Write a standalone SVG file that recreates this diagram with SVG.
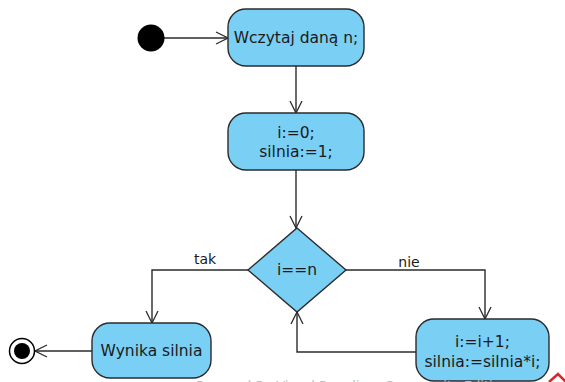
<svg xmlns="http://www.w3.org/2000/svg" width="565" height="382" viewBox="0 0 565 382">
  <style>
    .act { fill: #7acff5; stroke: #2b2b2b; stroke-width: 1.4; }
    .lbl { font-family: "DejaVu Sans", sans-serif; font-size: 15.5px; fill: #1a1a1a; text-anchor: middle; }
    .elbl { font-family: "DejaVu Sans", sans-serif; font-size: 14px; fill: #1a1a1a; text-anchor: middle; }
    .flow { fill: none; stroke: #2b2b2b; stroke-width: 1.4; }
    .wm { font-family: "DejaVu Sans", sans-serif; font-size: 13px; fill: #bdbdbd; }
  </style>
  <defs>
    <marker id="open" viewBox="0 0 14 14" refX="13" refY="7" markerWidth="14" markerHeight="14" markerUnits="userSpaceOnUse" orient="auto">
      <path d="M1,1 L13,7 L1,13" fill="none" stroke="#2b2b2b" stroke-width="1.3"/>
    </marker>
  </defs>
  <rect width="565" height="382" fill="#ffffff"/>

  <g id="connectors">
    <path class="flow" d="M164,38 L228,38" marker-end="url(#open)"/>
    <path class="flow" d="M296,66 L296,113" marker-end="url(#open)"/>
    <path class="flow" d="M296,170 L296,228" marker-end="url(#open)"/>
    <path class="flow" d="M248,270 L152,270 L152,323" marker-end="url(#open)"/>
    <path class="flow" d="M346,270 L485,270 L485,319" marker-end="url(#open)"/>
    <path class="flow" d="M416,352 L297,352 L297,312" marker-end="url(#open)"/>
    <path class="flow" d="M92,351 L35,351" marker-end="url(#open)"/>
    <text class="elbl" x="205" y="264">tak</text>
    <text class="elbl" x="409" y="267">nie</text>
  </g>

  <g id="start">
    <circle cx="151" cy="38" r="13.5" fill="#000000"/>
  </g>

  <g id="read">
    <rect class="act" x="228" y="9" width="136" height="57" rx="18" ry="18"/>
    <text class="lbl" x="296" y="43">Wczytaj daną n;</text>
  </g>

  <g id="init">
    <rect class="act" x="228" y="113" width="136" height="57" rx="18" ry="18"/>
    <text class="lbl" x="296" y="138">i:=0;</text>
    <text class="lbl" x="296" y="157">silnia:=1;</text>
  </g>

  <g id="decision">
    <polygon class="act" points="297,228 346,270 297,312 248,270"/>
    <text class="lbl" x="297" y="275">i==n</text>
  </g>

  <g id="result">
    <rect class="act" x="92" y="323" width="119" height="55" rx="18" ry="18"/>
    <text class="lbl" x="151.5" y="356">Wynika silnia</text>
  </g>

  <g id="step">
    <rect class="act" x="416" y="319" width="133" height="62" rx="18" ry="18"/>
    <text class="lbl" x="482.5" y="347">i:=i+1;</text>
    <text class="lbl" x="482.5" y="367">silnia:=silnia*i;</text>
  </g>

  <g id="end">
    <circle cx="22" cy="351" r="12.5" fill="#ffffff" stroke="#000000" stroke-width="1.5"/>
    <circle cx="22" cy="351" r="8" fill="#000000"/>
  </g>

  <g id="footer">
    <text class="wm" x="196" y="390">Powered By Visual Paradigm Community Edition</text>
    <path d="M549,382 L558,374 L566,382" fill="none" stroke="#d9262b" stroke-width="2.5"/>
  </g>
</svg>
